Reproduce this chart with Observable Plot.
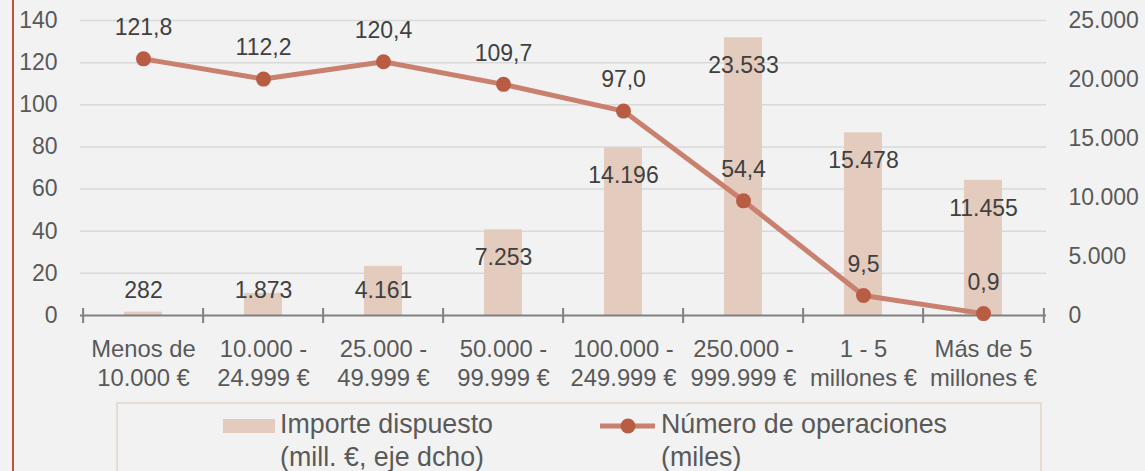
<!DOCTYPE html>
<html>
<head>
<meta charset="utf-8">
<script src="https://cdn.jsdelivr.net/npm/d3@7"></script>
<script src="https://cdn.jsdelivr.net/npm/@observablehq/plot@0.6"></script>
<style>
  html, body { margin: 0; padding: 0; background: #f2f2f2; }
  #wrap { position: relative; width: 1145px; height: 471px; overflow: hidden; background: #f2f2f2;
          font-family: "Liberation Sans", Arial, sans-serif; }
  #border { position: absolute; left: 12px; top: 0; width: 2px; height: 471px; background: #b9573d; }
  #legend { position: absolute; left: 116px; top: 402px; width: 926px; height: 80px;
            border: 2px solid #e5dcd4; box-sizing: border-box; color: #595959; font-size: 26.8px; line-height: 33px; }
  .lt { position: absolute; top: 4px; white-space: nowrap; }
</style>
</head>
<body>
<div id="wrap">
  <div id="border"></div>
  <div id="chart"></div>
  <div id="legend"></div>
</div>
<script>
const categorias = [
  "Menos de\n10.000 €", "10.000 -\n24.999 €", "25.000 -\n49.999 €", "50.000 -\n99.999 €",
  "100.000 -\n249.999 €", "250.000 -\n999.999 €", "1 - 5\nmillones €", "Más de 5\nmillones €"
];
const importe = [282, 1873, 4161, 7253, 14196, 23533, 15478, 11455];      // mill. €, eje dcho
const operaciones = [121.8, 112.2, 120.4, 109.7, 97.0, 54.4, 9.5, 0.9];   // miles
const ticksIzq = [0, 20, 40, 60, 80, 100, 120, 140];
const ticksDcha = [0, 5000, 10000, 15000, 20000, 25000];
const serieBarras = "Importe dispuesto\n(mill. €, eje dcho)";
const serieLinea = "Número de operaciones\n(miles)";

const locale = d3.formatLocale({decimal: ",", thousands: ".", grouping: [3], currency: ["", " €"]});
const f1 = locale.format(",.1f");
const fInt = locale.format(",d");

const W = 1145, H = 398, ML = 80, MR = 99, MT = 20, MB = 83;
const K = ticksIzq[ticksIzq.length - 1] / ticksDcha[ticksDcha.length - 1];
const step = (W - ML - MR) / categorias.length;
const minLabel = 4491; // lowest anchor for bar labels (importe units)

const data = categorias.map((c, i) => ({cat: c, importe: importe[i], ops: operaciones[i]}));

const chart = Plot.plot({
  width: W, height: H,
  marginLeft: ML, marginRight: MR, marginTop: MT, marginBottom: MB,
  style: {background: "transparent", fontFamily: "'Liberation Sans', Arial, sans-serif", fontSize: "23px", color: "#595959", overflow: "visible"},
  x: {domain: categorias, paddingInner: 0.685, paddingOuter: 0.3425, label: null},
  y: {domain: [0, 140], label: null},
  marks: [
    Plot.gridY(ticksIzq.slice(1), {stroke: "#d9d9d9", strokeOpacity: 1, strokeWidth: 1.5}),
    Plot.barY(data, {x: "cat", y: d => d.importe * K, fill: "#e3cbbd"}),
    Plot.ruleY([0], {stroke: "#808080", strokeWidth: 2}),
    Plot.ruleX(categorias, {x: d => d, y1: 0, y2: 0, dx: -step / 2, insetTop: 8, insetBottom: 7, stroke: "#808080", strokeWidth: 2}),
    Plot.ruleX(categorias.slice(-1), {x: d => d, y1: 0, y2: 0, dx: step / 2, insetTop: 8, insetBottom: 7, stroke: "#808080", strokeWidth: 2}),
    Plot.line(data, {x: "cat", y: "ops", stroke: "#c9806e", strokeWidth: 5}),
    Plot.dot(data, {x: "cat", y: "ops", r: 7.5, fill: "#b85c44", stroke: "none"}),
    Plot.text(data, {x: "cat", y: "ops", text: d => f1(d.ops), dy: -31, fill: "#404040", fontSize: 23}),
    Plot.text(data, {x: "cat", y: d => Math.max(d.importe, minLabel) * K, text: d => fInt(d.importe), dy: 28, fill: "#404040", fontSize: 23}),
    Plot.axisY(ticksIzq, {anchor: "left", tickSize: 0, tickPadding: 23, label: null, fontSize: 23}),
    Plot.axisY(ticksDcha.map(v => v * K), {anchor: "right", tickSize: 0, tickPadding: 22, label: null, fontSize: 23,
      tickFormat: v => fInt(Math.round(v / K))}),
    Plot.axisX({tickSize: 0, tickPadding: 20, lineHeight: 1.25, label: null, fontSize: 23.8, tickFormat: d => d})
  ]
});
document.getElementById("chart").appendChild(chart);

// Legend
const legend = document.getElementById("legend");
const [b1, b2] = serieBarras.split("\n");
const [l1, l2] = serieLinea.split("\n");
legend.innerHTML = `
  <div style="position:absolute;left:105px;top:15px;width:52px;height:14px;background:#e3cbbd"></div>
  <div class="lt" style="left:162px">${b1}<br>${b2}</div>
  <svg style="position:absolute;left:482px;top:10px" width="60" height="26">
    <line x1="0" y1="12" x2="55" y2="12" stroke="#c9806e" stroke-width="5"/>
    <circle cx="28" cy="12" r="7.5" fill="#b85c44"/>
  </svg>
  <div class="lt" style="left:543px">${l1}<br>${l2}</div>`;
</script>
</body>
</html>
